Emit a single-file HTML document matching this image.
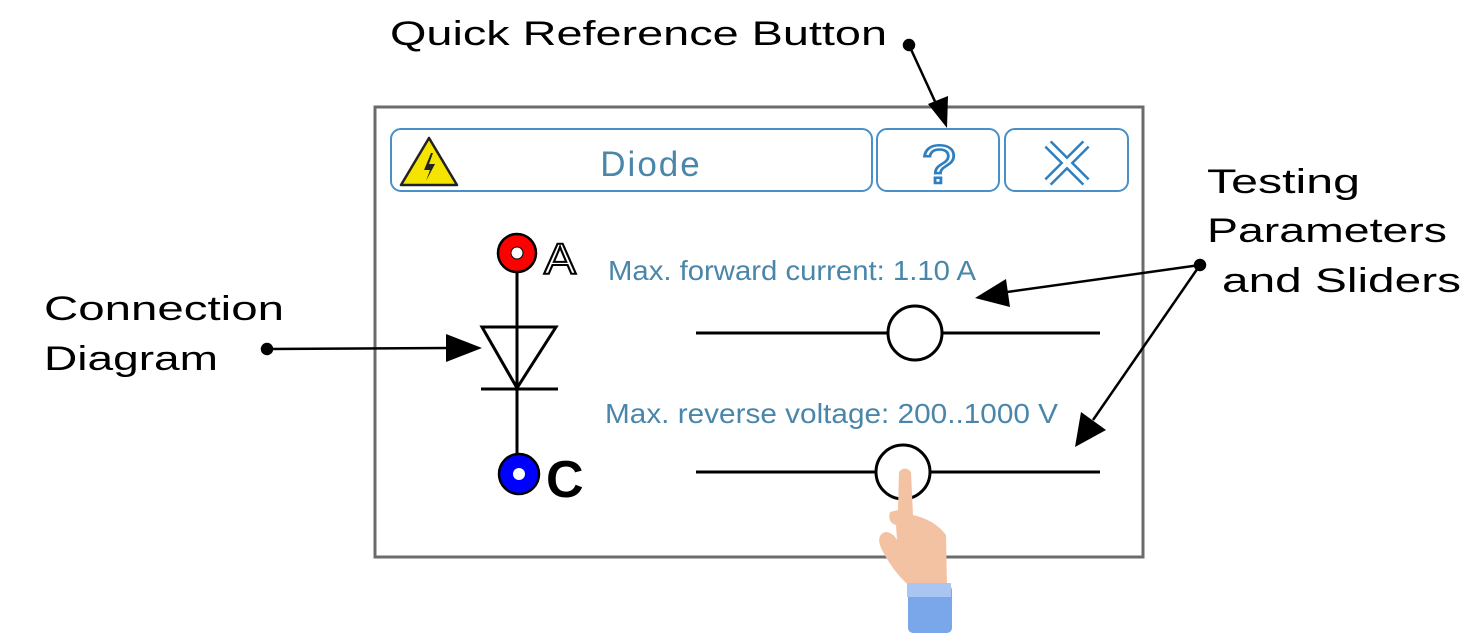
<!DOCTYPE html>
<html><head><meta charset="utf-8"><style>
html,body{margin:0;padding:0;background:#fff;}
svg{display:block}
text{font-family:"Liberation Sans",sans-serif;}
</style></head><body>
<svg width="1473" height="643" viewBox="0 0 1473 643" xmlns="http://www.w3.org/2000/svg">
<rect width="1473" height="643" fill="#fff"/>
<!-- panel -->
<rect x="375" y="107" width="768" height="450" fill="#fff" stroke="#6b6b6b" stroke-width="3"/>
<rect x="391" y="129" width="481" height="62" rx="10" fill="#fff" stroke="#4a8fc8" stroke-width="2"/>
<rect x="877" y="129" width="122" height="62" rx="10" fill="#fff" stroke="#4a8fc8" stroke-width="2"/>
<rect x="1005" y="129" width="123" height="62" rx="10" fill="#fff" stroke="#4a8fc8" stroke-width="2"/>
<polygon points="429,138 401,185 457,185" fill="#f5e400" stroke="#222" stroke-width="2.5" stroke-linejoin="round"/>
<polygon points="431,153 424,170 430,170 426,181 435,164 429,164 433,153" fill="#222"/>
<text x="651" y="176" font-size="35" fill="#4a86aa" text-anchor="middle" letter-spacing="2">Diode</text>
<text x="939" y="183" font-size="54" fill="#fff" stroke="#2d7fc0" stroke-width="2.5" text-anchor="middle" textLength="34" lengthAdjust="spacingAndGlyphs">?</text>
<path d="M1048,144 L1086,182 M1086,144 L1048,182" stroke="#2d7fc0" stroke-width="10"/>
<path d="M1048,144 L1086,182 M1086,144 L1048,182" stroke="#fff" stroke-width="5"/>
<!-- diode -->
<line x1="517" y1="262" x2="517" y2="460" stroke="#000" stroke-width="3"/>
<polygon points="482,327 556,327 517,388" fill="none" stroke="#000" stroke-width="3"/>
<line x1="481" y1="389" x2="558" y2="389" stroke="#000" stroke-width="3"/>
<circle cx="517" cy="253" r="19" fill="#f00" stroke="#000" stroke-width="2.5"/>
<circle cx="517" cy="253" r="6" fill="#fff" stroke="#000" stroke-width="1"/>
<text x="544" y="274" font-size="44" fill="#fff" stroke="#000" stroke-width="2" textLength="32" lengthAdjust="spacingAndGlyphs">A</text>
<circle cx="519" cy="474" r="20" fill="#00f" stroke="#000" stroke-width="2.5"/>
<circle cx="519" cy="474" r="6" fill="#fff"/>
<text x="546" y="497" font-size="52" font-weight="bold" fill="#000">C</text>
<!-- sliders -->
<text x="608" y="280" font-size="28" fill="#4a86aa" textLength="368" lengthAdjust="spacingAndGlyphs">Max. forward current: 1.10 A</text>
<line x1="696" y1="333" x2="1100" y2="333" stroke="#000" stroke-width="3"/>
<circle cx="915" cy="333" r="27" fill="#fff" stroke="#000" stroke-width="3"/>
<text x="605" y="423" font-size="28" fill="#4a86aa" textLength="453" lengthAdjust="spacingAndGlyphs">Max. reverse voltage: 200..1000 V</text>
<line x1="696" y1="472" x2="1100" y2="472" stroke="#000" stroke-width="3"/>
<circle cx="903" cy="472" r="27" fill="#fff" stroke="#000" stroke-width="3"/>
<!-- hand -->
<path d="M899,472 Q905,465 911,472 L913,515 Q935,520 946,535 L947,585 L912,588 Q895,575 882,550 Q875,536 885,532 Q893,532 897,540 L896,525 Q887,522 890,512 L898,510 Z" fill="#f3c2a3"/>
<rect x="908" y="585" width="44" height="48" rx="5" fill="#7aa7ea"/>
<rect x="907" y="583" width="44" height="14" fill="#a9c5f2"/>
<!-- labels -->
<text x="390" y="45" font-size="34" fill="#000" textLength="497" lengthAdjust="spacingAndGlyphs">Quick Reference Button</text>
<text x="44" y="320" font-size="34" fill="#000" textLength="240" lengthAdjust="spacingAndGlyphs">Connection</text>
<text x="44" y="370" font-size="34" fill="#000" textLength="174" lengthAdjust="spacingAndGlyphs">Diagram</text>
<text x="1207" y="193" font-size="34" fill="#000" textLength="153" lengthAdjust="spacingAndGlyphs">Testing</text>
<text x="1207" y="242" font-size="34" fill="#000" textLength="240" lengthAdjust="spacingAndGlyphs">Parameters</text>
<text x="1222" y="292" font-size="34" fill="#000" textLength="239" lengthAdjust="spacingAndGlyphs">and Sliders</text>
<!-- connectors -->
<g stroke="#000" stroke-width="2.5" fill="#000">
<circle cx="909" cy="45" r="5"/>
<line x1="909" y1="45" x2="938" y2="108"/>
<circle cx="267" cy="349" r="5"/>
<line x1="267" y1="349" x2="450" y2="348"/>
<circle cx="1200" cy="265" r="5"/>
<line x1="1200" y1="265" x2="1000" y2="293"/>
<line x1="1200" y1="265" x2="1093" y2="420"/>
</g>
<polygon points="947,128 928,104 948,96" fill="#000"/>
<polygon points="482,348 446,334 446,362" fill="#000"/>
<polygon points="975,298 1006,279 1010,307" fill="#000"/>
<polygon points="1075,447 1081,412 1106,430" fill="#000"/>
</svg>
</body></html>
